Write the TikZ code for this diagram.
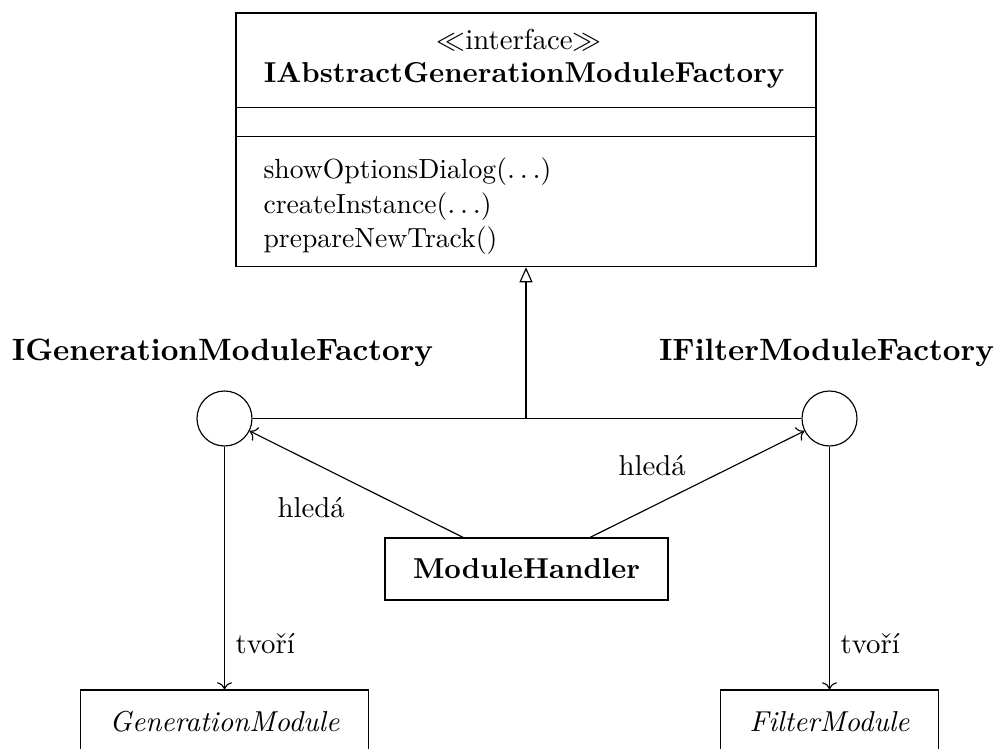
\documentclass[tikz,border=0pt]{standalone}
\usetikzlibrary{arrows.meta,fit}
\newcommand\pxu{0.3472pt}
\tikzset{
  boxline/.style={draw, line width=0.4pt},
  classbox/.style={boxline, inner sep=0pt},
  iface/.style={circle, boxline, inner sep=0pt, minimum size=55*\pxu},
  ifacelabel/.style={font=\fontsize{10.7}{13}\selectfont\bfseries, anchor=base, inner sep=0pt},
  member/.style={font=\fontsize{9.6}{12}\selectfont, anchor=base west, inner sep=0pt},
  edgelabel/.style={font=\fontsize{10}{12}\selectfont, anchor=base west, inner sep=0pt},
  uses/.style={->, line width=0.4pt},
  realizes/.style={-{Triangle[open, width=13*\pxu, length=15*\pxu]}, line width=0.4pt}
}
\begin{document}
\begin{tikzpicture}[x=0.3472pt, y=-0.3472pt]
  \useasboundingbox (0,0) rectangle (998,749);

  % abstract factory interface class box
  \coordinate (ifTL) at (236,13);
  \coordinate (ifBR) at (816,266.7);
  \node[classbox, fit=(ifTL)(ifBR)] (abs) {};
  \draw (abs.west |- 0,107.7) -- (abs.east |- 0,107.7);
  \draw (abs.west |- 0,136.7) -- (abs.east |- 0,136.7);
  \node[font=\fontsize{10}{12}\selectfont, anchor=base, inner sep=0pt] (stereo) at (519,50) {$\ll$interface$\gg$};
  \node[font=\fontsize{10}{12}\selectfont\bfseries, anchor=base, inner sep=0pt] (absname) at (524,82) {IAbstractGenerationModuleFactory};
  \node[member] (m1) at (263,178) {showOptionsDialog($\ldots$)};
  \node[member] (m2) at (263,213) {createInstance($\ldots$)};
  \node[member] (m3) at (263,247) {prepareNewTrack()};

  % lollipop interfaces
  \node[iface] (gf) at (224.5,418.5) {};
  \node[iface] (ff) at (829.5,418.5) {};
  \node[ifacelabel] (gfl) at (222.5,360) {IGenerationModuleFactory};
  \node[ifacelabel] (ffl) at (826.5,360) {IFilterModuleFactory};

  \draw (gf) -- (ff);
  \coordinate (join) at (abs.south |- gf.center);
  \draw[realizes] (join) -- (abs.south);

  % module handler
  \node[classbox, font=\fontsize{10}{12}\selectfont\bfseries, minimum width=283*\pxu, minimum height=62*\pxu] (mh) at (526.5,569) {ModuleHandler};
  \draw[uses] (mh) -- (gf);
  \draw[uses] (mh) -- (ff);
  \node[edgelabel] (l1) at (277,517) {hledá};
  \node[edgelabel] (l2) at (618,475) {hledá};

  % concrete modules
  \node[classbox, font=\fontsize{10}{12}\selectfont\itshape, minimum width=288*\pxu, minimum height=64*\pxu] (gm) at (224.5,722) {GenerationModule};
  \node[classbox, font=\fontsize{10}{12}\selectfont\itshape, minimum width=218*\pxu, minimum height=64*\pxu] (fm) at (829.5,722) {FilterModule};
  \draw[uses] (gf) -- (gm);
  \draw[uses] (ff) -- (fm);
  \node[edgelabel] (t1) at (235,653) {tvoří};
  \node[edgelabel] (t2) at (840,653) {tvoří};
\end{tikzpicture}
\end{document}
